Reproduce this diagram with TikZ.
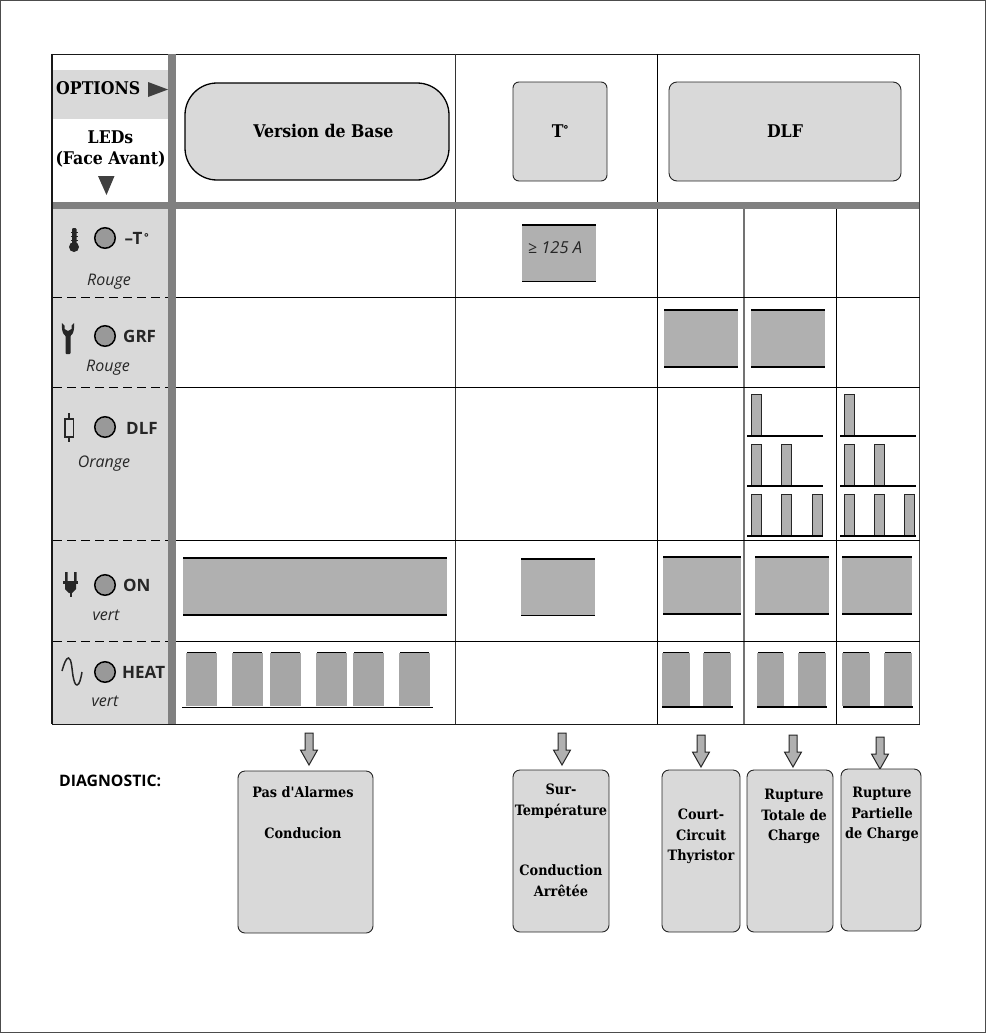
\documentclass[tikz,border=0pt]{standalone}
\usepackage{fontspec}
\newfontfamily\opensans{Open Sans}
\newfontfamily\dserif{DejaVu Serif Condensed}
\newcommand{\fsz}[2]{\fontsize{#1}{#2}\selectfont}
\definecolor{panel}{gray}{0.85}
\definecolor{barg}{gray}{0.69}
\definecolor{heatg}{gray}{0.65}
\definecolor{colg}{gray}{0.5}
\definecolor{ledg}{gray}{0.6}
\definecolor{tri}{gray}{0.25}
\tikzset{
  x=1pt,y=-1pt,
  grid/.style={line width=0.9pt,black},
  dashrow/.style={line width=0.9pt,black,dash pattern=on 9pt off 5pt},
  heavy/.style={line width=1.4pt,black!90},
  optbox/.style={draw=black!85,line width=0.9pt,fill=panel},
  diagbox/.style={draw=black!85,line width=0.9pt,fill=panel,rounded corners=7pt},
  bar/.style={fill=barg,draw=none},
  rail/.style={line width=1.6pt,black},
  pulse/.style={fill=barg,draw=black!85,line width=1pt},
  led/.style={circle,draw=black,line width=1.5pt,fill=ledg,minimum size=20.5pt,inner sep=0pt},
  ledlabel/.style={font=\opensans\bfseries\fsz{17}{20},text=black!85,anchor=west,inner sep=0pt},
  colour/.style={font=\opensans\itshape\fsz{16}{18},text=black!85,inner sep=0pt},
  serifb/.style={font=\dserif\bfseries\fsz{17.5}{21.5},align=center,inner sep=0pt,text=black},
  serifs/.style={font=\dserif\bfseries\fsz{14.3}{20.5},align=center,inner sep=0pt,text=black},
  downarrow/.style={draw=black!85,line width=1pt,fill=barg,line join=miter},
  icon/.style={fill=black!85,draw=none},
}
\newcommand{\downarr}[2]{% centre x, top y
  \draw[downarrow] (#1-4,#2) -- (#1+4,#2) -- (#1+4,#2+17) -- (#1+8.5,#2+17) -- (#1,#2+32) -- (#1-8.5,#2+17) -- (#1-4,#2+17) -- cycle;}
\newcommand{\flatbar}[4]{% x1 x2 y1 y2
  \fill[bar] (#1,#3) rectangle (#2,#4);
  \draw[rail] (#1,#3) -- (#2,#3);
  \draw[rail] (#1,#4) -- (#2,#4);}
\newcommand{\heatbar}[4]{\fill[heatg] (#1,#3) rectangle (#2,#4); \draw[rail] (#1+1,#3) -- (#2-1,#3);}
\newcommand{\plse}[3]{\draw[pulse] (#1,#3) -- (#1,#2) -- (#1+10,#2) -- (#1+10,#3);\fill[barg] (#1+.5,#2+.5) rectangle (#1+9.5,#3);}
\begin{document}
\begin{tikzpicture}
\useasboundingbox (0,0) rectangle (986,1033);
\fill[white] (0,0) rectangle (986,1033);
\draw[line width=0.8pt,black!70] (0.5,0.5) rectangle (985.5,1032.5);

% left panel
\fill[panel] (53,70) rectangle (168,119);
\fill[panel] (53,209) rectangle (168,724);

% grid lines
\draw[heavy] (52,54.5) -- (920,54.5);
\draw[heavy] (52,54) -- (52,724);
\draw[heavy] (52,724.3) -- (920,724.3);
\draw[line width=1.4pt,black!75] (919.7,54) -- (919.7,724);
\draw[line width=.9pt,black!80] (455.5,54) -- (455.5,724);
\draw[grid] (657,54) -- (657,724);
\draw[line width=1.2pt,black!55] (744,205) -- (744,724);
\draw[grid] (836,208) -- (836,724);
\draw[grid] (176,297) -- (920,297);
\draw[grid] (176,387) -- (920,387);
\draw[grid] (176,540) -- (920,540);
\draw[grid] (176,641) -- (920,641);
\draw[dashrow] (53,297) -- (168,297);
\draw[dashrow] (53,387) -- (168,387);
\draw[dashrow] (53,540) -- (168,540);
\draw[dashrow] (53,641) -- (168,641);
\fill[colg] (53,202) rectangle (919,209);
\fill[colg] (168,54) rectangle (176,724);

% header
\node[serifb,anchor=west] (opt) at (56,88.5) {OPTIONS};
\fill[tri] (148,82) -- (168,89.5) -- (148,97) -- cycle;
\node[serifb] (leds) at (110.5,149) {LEDs\\(Face Avant)};
\fill[tri] (98,176) -- (114.5,176) -- (106.5,195) -- cycle;

\node[optbox,draw=black,line width=1.3pt,rounded corners=32pt,minimum width=264pt,minimum height=97pt,inner sep=0pt] (base) at (317,131.5) {};
\node[serifb] (basetxt) at (323.5,131) {Version de Base};
\node[optbox,rounded corners=6pt,minimum width=94pt,minimum height=99pt,inner sep=0pt,serifb] (temp) at (560,131.5) {T\raisebox{4pt}{\fsz{11}{11}\opensans°}};
\node[optbox,rounded corners=8pt,minimum width=232pt,minimum height=99pt,inner sep=0pt,serifb] (dlf) at (785,131.5) {DLF};

% LEDs
\node[led] (l1) at (105,238) {};
\node[led] (l2) at (105,336) {};
\node[led] (l3) at (105,427) {};
\node[led] (l4) at (105,585) {};
\node[led] (l5) at (105,672) {};
\node[ledlabel] (t1) at (124.5,238) {–T\raisebox{3pt}{\fsz{11}{11}\opensans\,°}};
\node[ledlabel] (t2) at (123,336) {GRF};
\node[ledlabel] (t3) at (126,428) {DLF};
\node[ledlabel] (t4) at (123,585) {ON};
\node[ledlabel] (t5) at (122,672) {HEAT};
\node[colour] (c1) at (109,282) {Rouge};
\node[colour] (c2) at (108,368) {Rouge};
\node[colour] (c3) at (104,464) {Orange};
\node[colour] (c4) at (106,615) {vert};
\node[colour] (c5) at (105,701) {vert};

% icons
\fill[icon,rounded corners=1pt] (72,228) rectangle (76.5,246);
\fill[icon] (74,247) circle (5pt);
\draw[black!85,line width=.7pt] (71,232)--(77.5,232) (71,236)--(77.5,236) (71,240)--(77.5,240);
\fill[icon,rounded corners=1pt] (65.5,332) rectangle (70.5,354);
\fill[icon] (62,323) .. controls (61,333) and (65,337) .. (68,337) .. controls (71,337) and (75,333) .. (74,323) -- (71.5,325.5) -- (71.5,329) -- (68,331) -- (64.5,329) -- (64.5,325.5) -- cycle;
\draw[black!85,line width=1.5pt] (65,419) rectangle (73.5,437);
\draw[black!85,line width=1.5pt] (69.2,413) -- (69.2,419) (69.2,437) -- (69.2,442);
\fill[icon] (65,572) rectangle (67.5,582) (74,572) rectangle (76.5,582);
\fill[icon] (63,581) rectangle (78,584);
\fill[icon] (65,584) -- (76,584) -- (76,589) -- (72,593) -- (69,593) -- (65,589) -- cycle;
\fill[icon] (69.5,592) rectangle (71.5,597);
\draw[black!85,line width=1.5pt] (62,671) .. controls (64,664) and (66,658) .. (68.5,658) .. controls (71.5,658) and (72,670) .. (73,676) .. controls (74,681) and (75,685) .. (77,685) .. controls (79.5,685) and (81,678) .. (82,672);

% table bars
\flatbar{522}{596}{225}{281.5}
\node[colour,font=\opensans\itshape\fsz{16.5}{18}] (a125) at (555,248) {≥ 125 A};
\flatbar{664}{738}{310}{367}
\flatbar{751}{825}{310}{367}
\flatbar{183}{447}{558}{615}
\flatbar{521}{595}{559}{615.5}
\flatbar{663}{741}{557}{614}
\flatbar{755}{829}{557}{614}
\flatbar{842}{912}{557}{614}
% heat bars
\foreach \a/\b in {186/217,232/263,270/301,316/347,353/384,399/430}{\heatbar{\a}{\b}{652.5}{706}}
\foreach \a/\b in {662/690,703/731,757/784,798/826,842/870,884/912}{\heatbar{\a}{\b}{652.5}{706}}
\draw[rail] (182,707.5) -- (433,707.5);
\draw[rail] (662,707) -- (733,707);
\draw[rail] (757,707) -- (827,707);
\draw[rail] (843,707) -- (913,707);

% pulses, DLF row
\foreach \c/\xa/\xb/\xc/\xl/\xr in {0/751/781/812/747/823,1/844/874/904.5/840/916}{
  \plse{\xa}{394}{436}
  \draw[rail] (\xl,436) -- (\xr,436);
  \plse{\xa}{444}{486}
  \plse{\xb}{444}{486}
  \draw[rail] (\xl,486) -- (\xr,486);
  \plse{\xa}{494}{535.5}
  \plse{\xb}{494}{535.5}
  \plse{\xc}{494}{535.5}
  \draw[rail] (\xl,536) -- (\xr,536);
}

% arrows
\downarr{309}{733}
\downarr{562}{733}
\downarr{701}{735}
\downarr{793}{735}
\downarr{880}{737}

% diagnostic
\node[font=\opensans\bfseries\fsz{15.8}{18},text=black,inner sep=0pt,anchor=west] (diag) at (59,781) {DIAGNOSTIC:};
\node[diagbox,minimum width=135pt,minimum height=162pt] (d1) at (305.5,852) {};
\node[diagbox,minimum width=96pt,minimum height=162pt] (d2) at (561,851) {};
\node[diagbox,minimum width=78pt,minimum height=162pt] (d3) at (701,851) {};
\node[diagbox,minimum width=86pt,minimum height=162pt] (d4) at (790,851) {};
\node[diagbox,minimum width=80pt,minimum height=162pt] (d5) at (881,850) {};
\node[serifs,anchor=north] (x1) at (303,786) {Pas d'Alarmes\\[20.5pt]Conducion};
\node[serifs,anchor=north] (x2) at (561,784) {Sur-\\Température\\[40pt]Conduction\\Arrêtée};
\node[serifs,anchor=north] (x3) at (701,809) {Court-\\Circuit\\Thyristor};
\node[serifs,anchor=north] (x4) at (794,789) {Rupture\\Totale de\\Charge};
\node[serifs,anchor=north] (x5) at (882,787) {Rupture\\Partielle\\de Charge};
\end{tikzpicture}
\end{document}
